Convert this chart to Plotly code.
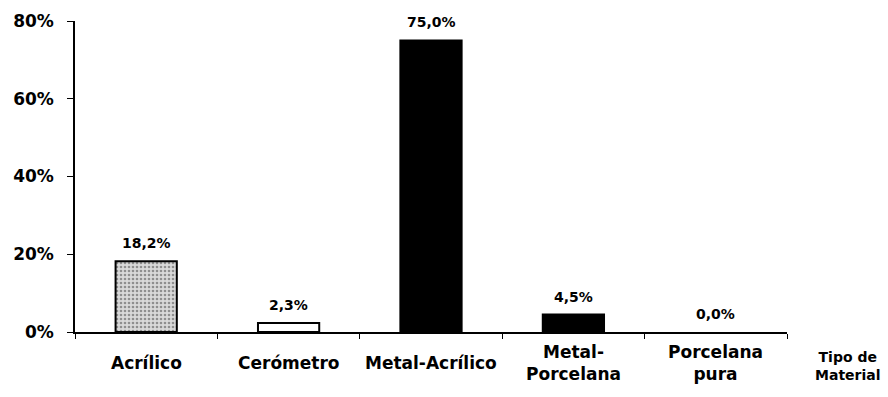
import plotly.graph_objects as go

categories = ["Acrílico", "Cerómetro", "Metal-Acrílico", "Metal-Porcelana", "Porcelana pura"]
cat_labels = ["Acrílico", "Cerómetro", "Metal-Acrílico", "Metal-<br>Porcelana", "Porcelana<br>pura"]
values = [18.2, 2.3, 75.0, 4.5, 0.0]
bar_colors = ["#d9d9d9", "#ffffff", "#000000", "#000000", "#000000"]
patterns = [".", "", "", "", ""]
y_ticks = [0, 20, 40, 60, 80]
axis_title = "Tipo de<br>Material"

FONT = "DejaVu Sans"

fig = go.Figure()
fig.add_trace(go.Bar(
    x=categories, y=values,
    width=0.43,
    marker=dict(color=bar_colors,
                line=dict(color="#000000", width=[2 if v > 0 else 0 for v in values]),
                pattern=dict(shape=patterns, fgcolor="#7a7a7a", size=4, solidity=0.35)),
    cliponaxis=False,
))

annotations = []
for c, v in zip(categories, values):
    annotations.append(dict(x=c, xref="x", y=v, yref="y", yshift=18,
                            yanchor="middle", xanchor="center", showarrow=False,
                            text="<b>" + ("%.1f" % v).replace(".", ",") + "%</b>",
                            font=dict(family=FONT, size=14, color="#000000")))
for c, lab in zip(categories, cat_labels):
    annotations.append(dict(x=c, xref="x", y=0, yref="paper", yshift=-31,
                            yanchor="middle", xanchor="center", showarrow=False,
                            text="<b>" + lab + "</b>",
                            font=dict(family=FONT, size=17, color="#000000")))
annotations.append(dict(x=1.086, xref="paper", y=0, yref="paper", yshift=-34,
                        yanchor="middle", xanchor="center", showarrow=False,
                        text="<b>" + axis_title + "</b>",
                        font=dict(family=FONT, size=14, color="#000000")))

fig.update_layout(
    width=888, height=397,
    margin=dict(l=75, r=101, t=11, b=65),
    paper_bgcolor="white", plot_bgcolor="white",
    showlegend=False,
    annotations=annotations,
    xaxis=dict(range=[-0.5, 4.5], showticklabels=False, showline=True,
               linecolor="#000000", linewidth=1.5, ticks="outside",
               tickson="boundaries", ticklen=5, tickcolor="#000000",
               showgrid=False, zeroline=False),
    yaxis=dict(range=[0, 80], tickmode="array", tickvals=y_ticks,
               ticktext=["<b>%d%%</b>" % v for v in y_ticks],
               showline=True, linecolor="#000000", linewidth=1.5,
               ticks="outside", ticklen=6, tickcolor="#000000",
               ticklabelstandoff=10,
               showgrid=False, zeroline=False,
               tickfont=dict(family=FONT, size=17, color="#000000")),
)

fig.write_html("out.html")
